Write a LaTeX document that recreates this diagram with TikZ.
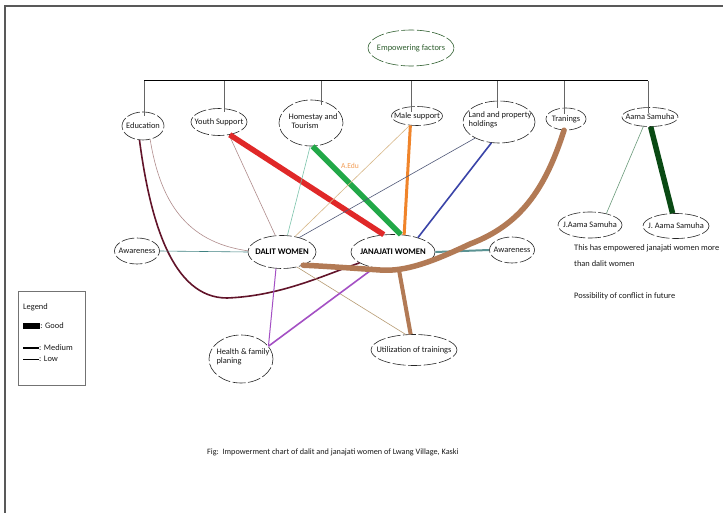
\documentclass[tikz,border=0pt]{standalone}
\usepackage{fontspec}
\setmainfont{Carlito}
\usetikzlibrary{shapes.geometric}
\definecolor{cred}{HTML}{E02828}
\definecolor{cgreen}{HTML}{22A848}
\definecolor{corange}{HTML}{F0842A}
\definecolor{cbrown}{HTML}{B27A55}
\definecolor{cdkgreen}{HTML}{0A4A14}
\definecolor{cmaroon}{HTML}{62142A}
\definecolor{cblue}{HTML}{3A44A8}
\definecolor{cpurple}{HTML}{A450C4}
\definecolor{cteal}{HTML}{3E8080}
\definecolor{cpink}{HTML}{B08C8C}
\definecolor{cltteal}{HTML}{7CC4AC}
\definecolor{ctan}{HTML}{D8B888}
\definecolor{cslate}{HTML}{505878}
\definecolor{cgrgray}{HTML}{6A9A7A}
\definecolor{cefgreen}{HTML}{2E5E2E}
\begin{document}
\begin{tikzpicture}[x=1pt,y=-1pt,
  ell/.style={ellipse, draw=black!85, dash pattern=on 13pt off 2.5pt, line width=0.6pt, inner sep=0pt},
  txt/.style={font=\fontsize{8.4}{9.5}\selectfont, text=black!90, inner sep=0pt, align=left},
  bold/.style={font=\bfseries\fontsize{8.6}{10}\selectfont, text=black, inner sep=0pt},
  thinln/.style={line width=0.6pt},
  medln/.style={line width=1.6pt},
  thkln/.style={line width=5.5pt},
  drop/.style={line width=0.5pt, draw=black!60},
  frame/.style={line width=1.4pt, draw=black!65}]
\useasboundingbox (0,0) rectangle (723,513);
\fill[white] (0,0) rectangle (723,513);
\draw[frame] (723,6) -- (5,6) -- (5,513);

% top node
\node[ell, draw=cefgreen, minimum width=86, minimum height=36] (emp) at (411,48) {};
\node[txt, text=cefgreen] (emp-t) at (emp) {Empowering factors};

% factor nodes
\node[ell, minimum width=42, minimum height=28] (edu) at (143,126) {};
\node[txt] (edu-t) at (edu) {Education};
\node[ell, minimum width=56, minimum height=27] (yth) at (219,122) {};
\node[txt] (yth-t) at (yth) {Youth Support};
\node[ell, minimum width=64, minimum height=46] (hom) at (311,123) {};
\node[txt] (hom-t) at (313,121) {Homestay and\\[-1pt]\hspace*{3pt}Tourism};
\node[ell, minimum width=51, minimum height=19] (mal) at (417,116) {};
\node[txt] (mal-t) at (mal) {Male support};
\node[ell, minimum width=72, minimum height=42] (lan) at (499,122) {};
\node[txt] (lan-t) at (500,120) {Land and property\\[-1pt]holdings};
\node[ell, minimum width=40, minimum height=22] (tra) at (566,119) {};
\node[txt] (tra-t) at (tra) {Tranings};
\node[ell, minimum width=56, minimum height=19] (aam) at (650,117) {};
\node[txt] (aam-t) at (aam) {Aama Samuha};
\node[ell, minimum width=64, minimum height=26] (jl) at (590,225) {};
\node[txt] (jl-t) at (jl) {J.Aama Samuha};
\node[ell, minimum width=66, minimum height=25] (jr) at (676,226) {};
\node[txt] (jr-t) at (jr) {J. Aama Samuha};

% centre nodes
\node[ell, minimum width=45, minimum height=26] (aw1) at (137,251) {};
\node[txt] (aw1-t) at (aw1) {Awareness};
\node[ell, minimum width=68, minimum height=33] (dal) at (282,252) {};
\node[bold] (dal-t) at (dal) {DALIT WOMEN};
\node[ell, minimum width=84, minimum height=35] (jan) at (393,252) {};
\node[bold] (jan-t) at (jan) {JANAJATI WOMEN};
\node[ell, minimum width=45, minimum height=26] (aw2) at (512,250) {};
\node[txt] (aw2-t) at (aw2) {Awareness};
\node[ell, minimum width=64, minimum height=48] (hea) at (241,359) {};
\node[txt] (hea-t) at (243,357) {Health \& family\\[0pt]planing};
\node[ell, minimum width=86, minimum height=31] (uti) at (414,350) {};
\node[txt] (uti-t) at (uti) {Utilization of trainings};

% bar and drops
\coordinate (b1) at (144,81);
\coordinate (b2) at (224,81);
\coordinate (b3) at (321,81);
\coordinate (b4) at (411,81);
\coordinate (b5) at (497,81);
\coordinate (b6) at (564,81);
\coordinate (b7) at (648,81);
\draw[line width=1pt] (b1) -- (b7);
\draw[drop] (b1) -- ([yshift=-4pt]b1 |- edu.north);
\draw[drop] (b2) -- ([yshift=-4pt]b2 |- yth.north);
\draw[drop] (b3) -- ([yshift=-5pt]b3 |- hom.north);
\draw[drop] (b4) -- ([yshift=-6pt]b4 |- mal.north);
\draw[drop] (b5) -- ([yshift=-7pt]b5 |- lan.north);
\draw[drop] (b6) -- ([yshift=-6pt]b6 |- tra.north);
\draw[drop] (b7) -- ([yshift=-6pt]b7 |- aam.north);

% connectors
\draw[thinln, draw=cpink] (edu.-62) .. controls (160,200) and (185,242) .. (dal.178);
\draw[medln, draw=cmaroon] (edu.-104) .. controls (150,220) and (172,298) .. (227,298)
   .. controls (280,296) and (322,276) .. (jan.198);
\draw[thinln, draw=cpink] (yth.-52) -- (dal.112);
\draw[thkln, draw=cred] (yth.-50) -- (jan.118);
\draw[thinln, draw=cltteal] (hom.-92) -- (dal.72);
\draw[thkln, draw=cgreen] (hom.-86) -- (jan.66);
\draw[thinln, draw=ctan] (mal.-128) -- (dal.50);
\draw[line width=3pt, draw=corange] (mal.-125) -- (jan.57);
\node[txt, text=corange!80!white, font=\fontsize{7.6}{8}\selectfont] (aedu) at (350,166) {A.Edu};
\draw[thinln, draw=cslate] (lan.-146) -- (dal.40);
\draw[medln, draw=cblue] (lan.-110) -- (jan.30);
\draw[thinln, draw=cgrgray] (aam.-125) -- (jl.35);
\draw[thkln, draw=cdkgreen] (aam.-86) -- (jr.105);
\draw[thinln, draw=cteal] (aw1.east) -- (dal.west);
\draw[line width=2pt, draw=cteal!85!white] (jan.east) -- (aw2.west);
\draw[thinln, draw=ctan!85!black] (dal.-45) -- (uti.118);
\draw[line width=1pt, draw=cpurple] (dal.-110) -- (hea.25);
\draw[medln, draw=cpurple] (jan.-140) -- (hea.25);
\coordinate (br) at (399,270);
\draw[thkln, draw=cbrown, line cap=round] (tra.-100) .. controls (545,190) and (520,225) .. (470,244)
   .. controls (432,262) and (405,272) .. (380,270)
   .. controls (350,268) and (322,266) .. (dal.-32);
\draw[line width=4pt, draw=cbrown] (br) -- (uti.102);

% notes
\node[txt, anchor=west] (n1) at (574,248) {This has empowered janajati women more};
\node[txt, anchor=west] (n2) at (574,264) {than dalit women};
\node[txt, anchor=west] (n3) at (574,296) {Possibility of conflict in future};

% legend
\node[draw=black!55, line width=0.8pt, minimum width=67, minimum height=94, inner sep=0pt] (leg) at (51.5,338) {};
\node[txt, anchor=west] (leg-t) at (23,307) {Legend};
\node[fill=black, minimum width=17, minimum height=6, inner sep=0pt] (lg1) at (31.5,326) {};
\node[txt, anchor=west] (lg1-t) at (lg1.east) {: Good};
\node[txt, anchor=west] (lg2-t) at (39,348) {: Medium};
\coordinate (lm1) at (23,348);
\draw[line width=1.5pt] (lm1) -- (lm1 -| lg2-t.west);
\node[txt, anchor=west] (lg3-t) at (39,359) {: Low};
\coordinate (ll1) at (23,359);
\draw[line width=0.6pt] (ll1) -- (ll1 -| lg3-t.west);

% caption
\node[txt, anchor=west, font=\fontsize{8.2}{9}\selectfont] (cap) at (207,452) {Fig:\ \ Impowerment chart of dalit and janajati women of Lwang Village, Kaski};
\end{tikzpicture}
\end{document}
